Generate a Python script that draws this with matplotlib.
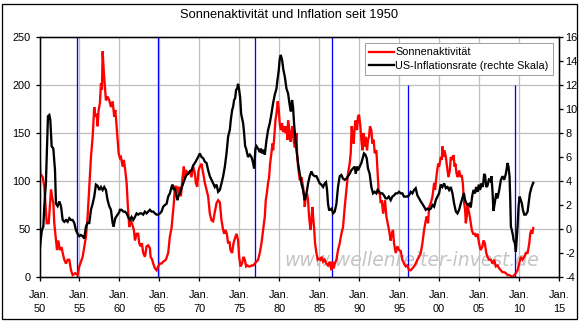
import matplotlib
matplotlib.use("Agg")
import matplotlib.pyplot as plt
from matplotlib.patches import Rectangle
from matplotlib.lines import Line2D
import numpy as np

plt.rcParams['font.family'] = ['Liberation Sans', 'DejaVu Sans']
plt.rcParams['axes.unicode_minus'] = False

# ---- data -----------------------------------------------------------------
# sunspot number (left scale), (decimal year, value)
sunspots = [
    (1950.00, 134), (1950.10, 108), (1950.40, 104), (1950.60, 94), (1950.90, 56), (1951.15, 56),
    (1951.44, 91), (1951.56, 84), (1951.73, 77), (1951.85, 56), (1952.06, 38), (1952.19, 28),
    (1952.35, 38), (1952.56, 28), (1952.77, 31), (1952.90, 25), (1953.10, 18), (1953.31, 14),
    (1953.52, 18), (1953.73, 18), (1953.94, 7), (1954.15, 2), (1954.48, 4), (1954.77, 2),
    (1954.98, 11), (1955.40, 21), (1955.81, 42), (1956.02, 63), (1956.23, 94), (1956.44, 125),
    (1956.65, 146), (1956.85, 177), (1956.98, 167), (1957.15, 170), (1957.27, 157), (1957.40, 174),
    (1957.56, 181), (1957.69, 202), (1957.81, 195), (1957.90, 235), (1958.06, 212), (1958.19, 198),
    (1958.31, 184), (1958.52, 188), (1958.73, 184), (1958.94, 177), (1959.15, 183), (1959.35, 167),
    (1959.48, 174), (1959.65, 157), (1959.90, 129),
    (1960.06, 124), (1960.19, 125), (1960.40, 115), (1960.56, 122), (1960.73, 111), (1960.90, 98),
    (1961.06, 73), (1961.23, 52), (1961.40, 59), (1961.56, 56), (1961.81, 49), (1961.94, 38),
    (1962.15, 45), (1962.35, 45), (1962.48, 35), (1962.65, 32), (1962.81, 35), (1962.98, 25),
    (1963.19, 21), (1963.40, 32), (1963.60, 33), (1963.81, 30), (1963.90, 21), (1964.10, 18),
    (1964.23, 14), (1964.44, 9), (1964.65, 7), (1964.85, 11), (1965.06, 14), (1965.27, 14),
    (1965.48, 16), (1965.81, 18), (1966.10, 25), (1966.31, 42), (1966.52, 51), (1966.65, 63),
    (1966.81, 77), (1966.94, 94), (1967.15, 94), (1967.23, 91), (1967.35, 87), (1967.48, 94),
    (1967.69, 84), (1967.90, 104), (1968.06, 115), (1968.19, 103), (1968.40, 110), (1968.60, 108),
    (1968.81, 110), (1969.02, 104), (1969.23, 115), (1969.44, 108), (1969.56, 98), (1969.73, 94),
    (1969.90, 111),
    (1970.06, 115), (1970.27, 118), (1970.48, 108), (1970.69, 98), (1970.90, 91), (1971.10, 84),
    (1971.31, 66), (1971.52, 59), (1971.73, 58), (1971.94, 68), (1972.15, 77), (1972.35, 80),
    (1972.56, 78), (1972.77, 59), (1972.98, 49), (1973.10, 45), (1973.27, 49), (1973.44, 45),
    (1973.60, 35), (1973.77, 37), (1973.90, 28), (1974.10, 25), (1974.27, 35), (1974.44, 40),
    (1974.65, 45), (1974.85, 38), (1974.98, 21), (1975.15, 11), (1975.35, 14), (1975.52, 21),
    (1975.69, 18), (1975.85, 11), (1976.02, 12), (1976.19, 11), (1976.35, 11), (1976.52, 12),
    (1976.73, 12), (1976.94, 14), (1977.15, 16), (1977.35, 18), (1977.56, 25), (1977.77, 35),
    (1977.98, 49), (1978.19, 63), (1978.31, 80), (1978.44, 87), (1978.60, 98), (1978.73, 104),
    (1978.85, 118), (1979.02, 129), (1979.15, 139), (1979.23, 132), (1979.35, 143), (1979.52, 163),
    (1979.65, 170), (1979.81, 183), (1979.94, 174),
    (1980.06, 160), (1980.19, 153), (1980.35, 160), (1980.48, 151), (1980.60, 157), (1980.77, 150),
    (1980.90, 157), (1981.02, 143), (1981.10, 163), (1981.27, 153), (1981.40, 141), (1981.55, 150),
    (1981.65, 157), (1981.80, 142), (1981.94, 135), (1982.06, 139), (1982.15, 150), (1982.23, 129),
    (1982.35, 115), (1982.56, 101), (1982.77, 104), (1982.98, 94), (1983.10, 84), (1983.19, 73),
    (1983.31, 84), (1983.48, 87), (1983.60, 80), (1983.73, 63), (1983.90, 49), (1984.02, 59),
    (1984.15, 73), (1984.23, 63), (1984.35, 52), (1984.48, 35), (1984.65, 25), (1984.81, 18),
    (1984.98, 19), (1985.15, 18), (1985.31, 21), (1985.48, 16), (1985.69, 18), (1985.90, 14),
    (1986.10, 12), (1986.31, 16), (1986.52, 7), (1986.65, 16), (1986.81, 9), (1986.94, 14),
    (1987.15, 18), (1987.35, 28), (1987.56, 35), (1987.77, 45), (1987.98, 52), (1988.19, 73),
    (1988.40, 91), (1988.60, 108), (1988.81, 118), (1988.94, 129), (1989.06, 157), (1989.19, 146),
    (1989.31, 139), (1989.44, 157), (1989.56, 163), (1989.73, 153), (1989.85, 167), (1989.98, 169),
    (1990.15, 157), (1990.27, 143), (1990.40, 132), (1990.56, 150), (1990.69, 136), (1990.81, 146),
    (1990.98, 132), (1991.10, 143), (1991.23, 146), (1991.35, 157), (1991.52, 153), (1991.65, 139),
    (1991.81, 143), (1991.94, 129), (1992.15, 132), (1992.30, 110), (1992.45, 87), (1992.56, 88),
    (1992.69, 77), (1992.82, 80), (1993.00, 66), (1993.23, 80), (1993.40, 63), (1993.56, 56),
    (1993.73, 49), (1993.94, 38), (1994.06, 45), (1994.23, 49), (1994.36, 35), (1994.57, 25),
    (1994.78, 32), (1994.99, 28), (1995.20, 27), (1995.40, 18), (1995.61, 14), (1995.82, 11),
    (1996.03, 12), (1996.24, 7), (1996.45, 7), (1996.66, 9), (1996.86, 11), (1997.07, 14),
    (1997.28, 18), (1997.49, 21), (1997.70, 25), (1997.91, 35), (1998.12, 49), (1998.33, 59),
    (1998.45, 63), (1998.62, 56), (1998.75, 73), (1998.96, 77), (1999.17, 84), (1999.38, 98),
    (1999.50, 91), (1999.58, 98), (1999.71, 108), (1999.88, 118),
    (2000.00, 115), (2000.21, 125), (2000.33, 122), (2000.42, 136), (2000.54, 125), (2000.67, 132),
    (2000.84, 125), (2001.05, 111), (2001.17, 104), (2001.34, 111), (2001.46, 125), (2001.67, 122),
    (2001.80, 127), (2001.94, 115), (2002.05, 118), (2002.17, 108), (2002.34, 104), (2002.50, 111),
    (2002.71, 104), (2002.83, 106), (2002.96, 98), (2003.13, 77), (2003.25, 70), (2003.34, 56),
    (2003.46, 63), (2003.55, 77), (2003.67, 70), (2003.84, 63), (2003.96, 56), (2004.09, 49),
    (2004.26, 45), (2004.46, 45), (2004.60, 42), (2004.80, 45), (2005.00, 35), (2005.20, 28),
    (2005.42, 32), (2005.55, 38), (2005.72, 35), (2005.90, 25), (2006.05, 21), (2006.26, 18),
    (2006.47, 18), (2006.68, 14), (2006.89, 18), (2007.10, 11), (2007.31, 12), (2007.52, 9),
    (2007.73, 7), (2007.93, 5), (2008.14, 5), (2008.35, 4), (2008.56, 2), (2008.77, 2),
    (2008.98, 1), (2009.19, 0), (2009.40, 2), (2009.60, 4), (2009.81, 7), (2010.02, 14),
    (2010.23, 21), (2010.44, 18), (2010.65, 21), (2010.86, 25), (2011.07, 25), (2011.28, 35),
    (2011.40, 45), (2011.53, 49), (2011.65, 45), (2011.78, 51),
]

# US consumer price inflation in % (right scale), (decimal year, value)
inflation = [
    (1950.00, -2.0), (1950.15, -0.9), (1950.30, -0.1), (1950.48, 0.2), (1950.60, 1.9), (1950.80, 3.8),
    (1950.94, 6.9), (1951.06, 9.4), (1951.23, 9.5), (1951.35, 9.1), (1951.52, 6.9), (1951.73, 6.7),
    (1951.94, 4.9), (1952.06, 2.1), (1952.27, 1.9), (1952.48, 2.3), (1952.69, 1.9), (1952.90, 0.75),
    (1953.10, 0.6), (1953.31, 0.75), (1953.52, 0.6), (1953.73, 0.9), (1953.94, 0.75), (1954.15, 0.75),
    (1954.35, 0.5), (1954.56, -0.1), (1954.77, -0.4), (1954.98, -0.6), (1955.19, -0.5), (1955.40, -0.6),
    (1955.60, -0.8), (1955.81, 0.2), (1956.02, 0.5), (1956.23, 0.5), (1956.44, 1.6), (1956.65, 2.1),
    (1956.85, 2.7), (1957.06, 3.7), (1957.27, 3.6), (1957.48, 3.25), (1957.69, 3.5), (1957.90, 3.25),
    (1958.10, 3.5), (1958.31, 3.25), (1958.52, 2.4), (1958.73, 1.9), (1958.94, 1.6), (1959.15, 0.5),
    (1959.27, 0.2), (1959.48, 0.9), (1959.77, 1.2), (1959.98, 1.4),
    (1960.06, 1.6), (1960.27, 1.6), (1960.48, 1.45), (1960.69, 1.45), (1960.90, 1.3), (1961.10, 1.0),
    (1961.31, 0.75), (1961.52, 1.0), (1961.73, 0.75), (1961.94, 1.0), (1962.15, 1.3), (1962.35, 1.2),
    (1962.56, 1.3), (1962.77, 1.3), (1962.98, 1.2), (1963.19, 1.45), (1963.40, 1.3), (1963.60, 1.45),
    (1963.81, 1.6), (1964.02, 1.45), (1964.23, 1.45), (1964.44, 1.3), (1964.65, 1.2), (1964.85, 1.2),
    (1965.06, 1.3), (1965.27, 1.45), (1965.48, 1.86), (1965.69, 2.0), (1965.90, 2.1), (1966.10, 2.7),
    (1966.31, 2.97), (1966.52, 3.5), (1966.65, 3.7), (1966.81, 3.25), (1966.94, 3.4), (1967.15, 2.7),
    (1967.27, 2.4), (1967.40, 2.8), (1967.56, 2.97), (1967.77, 3.4), (1967.98, 3.8), (1968.19, 4.2),
    (1968.40, 4.5), (1968.60, 4.6), (1968.81, 4.8), (1969.02, 4.9), (1969.23, 5.3), (1969.44, 5.5),
    (1969.65, 5.75), (1969.85, 6.0),
    (1970.06, 6.3), (1970.27, 6.0), (1970.48, 5.9), (1970.69, 5.6), (1970.90, 5.5), (1971.10, 4.9),
    (1971.31, 4.4), (1971.52, 4.1), (1971.73, 3.8), (1971.94, 3.5), (1972.15, 3.7), (1972.35, 3.1),
    (1972.56, 3.25), (1972.77, 3.8), (1972.98, 4.4), (1973.19, 5.2), (1973.40, 6.3), (1973.60, 7.7),
    (1973.81, 8.25), (1973.94, 9.1), (1974.10, 9.9), (1974.23, 10.2), (1974.35, 10.75), (1974.48, 10.9),
    (1974.60, 11.6), (1974.73, 11.7), (1974.85, 12.1), (1974.98, 11.6), (1975.10, 11.0), (1975.23, 9.6),
    (1975.35, 9.2), (1975.48, 8.8), (1975.60, 8.0), (1975.73, 6.9), (1975.85, 6.7), (1975.98, 6.3),
    (1976.10, 6.0), (1976.31, 6.2), (1976.52, 6.0), (1976.73, 5.5), (1976.85, 5.05), (1977.02, 6.7),
    (1977.15, 6.9), (1977.35, 6.7), (1977.56, 6.4), (1977.69, 6.7), (1977.85, 6.3), (1977.98, 6.6),
    (1978.19, 6.2), (1978.40, 7.4), (1978.60, 8.25), (1978.81, 8.8), (1979.02, 9.6), (1979.23, 10.5),
    (1979.44, 11.2), (1979.65, 11.7), (1979.77, 12.4), (1979.94, 13.25),
    (1980.06, 14.2), (1980.19, 14.5), (1980.35, 14.1), (1980.52, 13.25), (1980.69, 12.7), (1980.90, 11.7),
    (1981.10, 11.3), (1981.31, 10.3), (1981.45, 9.8), (1981.60, 10.75), (1981.72, 10.2), (1981.85, 8.8),
    (1981.98, 7.8), (1982.15, 6.6), (1982.35, 5.5), (1982.56, 4.6), (1982.77, 3.8), (1982.98, 3.25),
    (1983.19, 2.4), (1983.31, 2.7), (1983.48, 3.25), (1983.60, 3.8), (1983.81, 4.4), (1984.02, 4.8),
    (1984.23, 4.5), (1984.44, 4.4), (1984.65, 4.4), (1984.85, 4.1), (1985.06, 3.8), (1985.27, 3.7),
    (1985.48, 3.5), (1985.69, 3.8), (1985.85, 3.9), (1985.98, 3.25), (1986.10, 2.1), (1986.23, 1.6),
    (1986.40, 1.6), (1986.56, 1.7), (1986.73, 1.3), (1986.94, 1.45), (1987.15, 2.1), (1987.35, 3.5),
    (1987.56, 4.4), (1987.77, 4.5), (1987.98, 4.2), (1988.19, 4.1), (1988.40, 4.2), (1988.60, 4.4),
    (1988.81, 4.6), (1989.02, 4.9), (1989.23, 5.05), (1989.44, 5.2), (1989.56, 4.6), (1989.73, 5.2),
    (1989.85, 4.9),
    (1990.06, 5.2), (1990.27, 5.5), (1990.48, 6.0), (1990.60, 6.3), (1990.77, 6.2), (1990.94, 5.9),
    (1991.10, 5.05), (1991.31, 4.6), (1991.52, 3.5), (1991.73, 2.97), (1991.94, 3.1), (1992.15, 2.97),
    (1992.30, 3.25), (1992.50, 3.1), (1992.70, 2.97), (1992.90, 2.97), (1993.10, 2.8), (1993.30, 2.55),
    (1993.50, 2.55), (1993.70, 2.7), (1993.94, 2.4), (1994.15, 2.7), (1994.36, 2.8), (1994.57, 2.97),
    (1994.78, 2.97), (1994.99, 3.1), (1995.20, 2.97), (1995.40, 2.97), (1995.60, 2.7), (1995.80, 2.7),
    (1996.00, 2.7), (1996.24, 2.8), (1996.45, 3.1), (1996.66, 2.97), (1996.86, 3.25), (1997.07, 3.4),
    (1997.28, 2.8), (1997.50, 2.55), (1997.70, 2.3), (1997.90, 2.1), (1998.12, 1.86), (1998.33, 1.6),
    (1998.54, 1.7), (1998.75, 1.6), (1998.96, 1.7), (1999.17, 2.0), (1999.38, 1.86), (1999.58, 2.4),
    (1999.79, 2.7),
    (2000.00, 2.97), (2000.20, 3.7), (2000.40, 3.5), (2000.63, 3.8), (2000.84, 3.4), (2001.05, 3.5),
    (2001.25, 3.25), (2001.46, 3.5), (2001.67, 2.97), (2001.88, 2.1), (2002.10, 1.45), (2002.30, 1.3),
    (2002.50, 1.6), (2002.70, 2.1), (2002.90, 2.55), (2003.10, 3.0), (2003.25, 2.4), (2003.45, 2.1),
    (2003.63, 2.0), (2003.80, 2.1), (2003.96, 1.8), (2004.13, 2.7), (2004.30, 3.25), (2004.50, 2.97),
    (2004.63, 3.5), (2004.80, 3.1), (2004.97, 3.7), (2005.13, 3.25), (2005.30, 3.8), (2005.47, 3.5),
    (2005.64, 4.6), (2005.76, 4.4), (2005.90, 3.5), (2006.05, 3.6), (2006.22, 4.1), (2006.38, 4.0),
    (2006.55, 4.4), (2006.67, 3.25), (2006.80, 1.5), (2006.97, 2.2), (2007.14, 2.97), (2007.30, 2.55),
    (2007.52, 3.25), (2007.73, 4.1), (2007.93, 4.4), (2008.14, 4.1), (2008.35, 4.6), (2008.56, 5.5),
    (2008.68, 5.2), (2008.81, 4.4), (2008.89, 2.7), (2008.98, 0.2), (2009.10, -0.1), (2009.23, -0.5),
    (2009.31, -0.9), (2009.48, -1.2), (2009.60, -1.9), (2009.73, -0.6), (2009.81, 0.2), (2009.94, 1.86),
    (2010.06, 2.7), (2010.23, 2.4), (2010.36, 2.1), (2010.48, 1.6), (2010.65, 1.2), (2010.86, 1.2),
    (2011.07, 1.45), (2011.20, 2.1), (2011.36, 2.97), (2011.57, 3.5), (2011.78, 3.85),
]

# solar cycle minima (vertical markers) and the height each marker reaches
minima_year = [1954.74, 1964.77, 1976.93, 1986.54, 1996.11, 2009.52]
minima_top = [250, 250, 250, 250, 200, 200]

x_ticks = list(range(1950, 2016, 5))
x_labels = ["Jan.\n%02d" % (y % 100) for y in x_ticks]
left_ticks = [0, 50, 100, 150, 200, 250]
right_ticks = list(range(-4, 17, 2))

title = "Sonnenaktivität und Inflation seit 1950"
label_sun = "Sonnenaktivität"
label_cpi = "US-Inflationsrate (rechte Skala)"
watermark = "www.wellenreiter-invest.de"

# ---- figure ---------------------------------------------------------------
W, H, DPI = 582, 323, 100
fig = plt.figure(figsize=(W / DPI, H / DPI), dpi=DPI)
fig.patch.set_facecolor("white")

ax = fig.add_axes([39.5 / W, 46 / H, 519.5 / W, 240 / H])
ax.set_xlim(1950, 2015)
ax.set_ylim(0, 250)
ax2 = ax.twinx()
ax2.set_ylim(-4, 16)
ax2.patch.set_visible(False)

PX = 72.0 / DPI  # one pixel in points
grid_c = "#C0C0C0"
for y in left_ticks[1:-1]:
    ax.axhline(y, color=grid_c, lw=1.0 * PX * 1.3, zorder=1)
for x in x_ticks[1:-1]:
    ax.axvline(x, color=grid_c, lw=1.0 * PX * 1.3, zorder=1)

ax.vlines(minima_year, 0, minima_top, color="#0000FF", lw=1.3 * PX, zorder=2)

ax.text(1996.6, 17.7, watermark, ha="center", va="center", fontsize=13.5,
        family=["DejaVu Sans"], style="oblique", color="#C4C4C4", zorder=1.5)

sx, sy = zip(*sunspots)
cx, cy = zip(*inflation)
ax.plot(sx, sy, color="#FF0000", lw=2.3 * PX, zorder=3, solid_joinstyle="miter")
ax2.plot(cx, cy, color="black", lw=2.3 * PX, zorder=3, solid_joinstyle="miter")

# axes styling
for a in (ax, ax2):
    for s in a.spines.values():
        s.set_linewidth(1.3 * PX)
        s.set_color("black")

ax.set_xticks(x_ticks)
ax.set_xticklabels(x_labels, fontsize=7.9, linespacing=1.5)
ax.set_yticks(left_ticks)
ax.set_yticklabels([str(v) for v in left_ticks], fontsize=7.9)
ax2.set_yticks(right_ticks)
ax2.set_yticklabels([str(v) for v in right_ticks], fontsize=7.9)

ax.tick_params(axis="x", direction="out", length=4 * PX, width=1.3 * PX, pad=6.3)
ax.tick_params(axis="y", direction="out", length=4 * PX, width=1.3 * PX, pad=3.5)
ax2.tick_params(axis="y", direction="out", length=4 * PX, width=1.3 * PX, pad=1.8)

handles = [Line2D([], [], color="#FF0000", lw=2.3 * PX),
           Line2D([], [], color="black", lw=2.3 * PX)]
leg = ax2.legend(handles, [label_sun, label_cpi], loc="upper right",
                 bbox_to_anchor=(0.9885, 0.975), borderaxespad=0, fontsize=7.8,
                 frameon=True, fancybox=False, framealpha=1, edgecolor="#A0A0A0",
                 handlelength=2.3, handletextpad=0.1, borderpad=0.4, labelspacing=0.32)
leg.get_frame().set_linewidth(1.0 * PX)
leg.set_zorder(10)

fig.text(289 / W, 1 - 15.5 / H, title, ha="center", va="center", fontsize=9.3)

fig.patches.append(Rectangle((1.7 / W, 4 / H), 575.6 / W, 315 / H, transform=fig.transFigure,
                             fill=False, edgecolor="black", lw=1.3 * PX))

fig.savefig("out.png", dpi=DPI)
